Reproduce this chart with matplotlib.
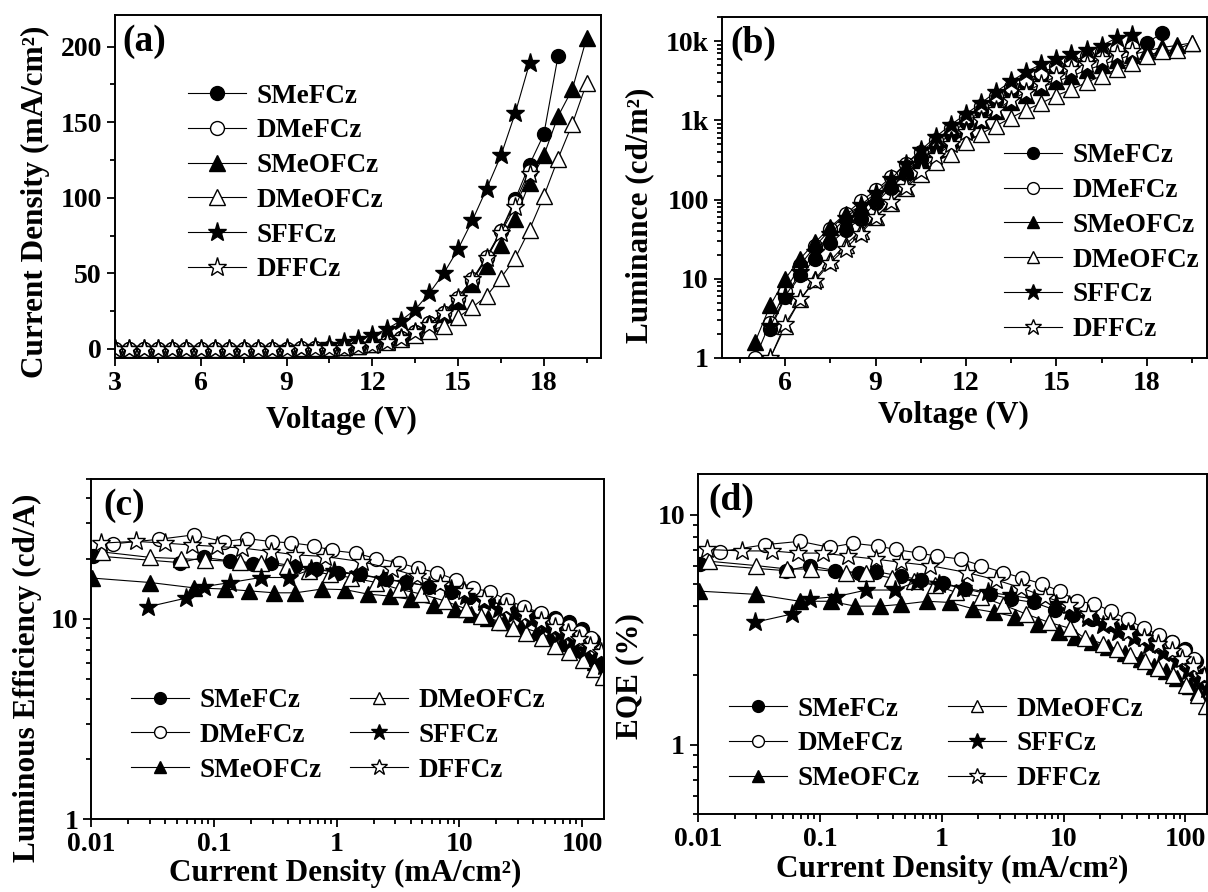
import matplotlib
matplotlib.use('Agg')
import matplotlib.pyplot as plt
from matplotlib.ticker import FixedLocator, FixedFormatter, MultipleLocator, LogLocator, NullFormatter

plt.rcParams['font.family'] = ['Liberation Serif', 'DejaVu Serif']
plt.rcParams['font.weight'] = 'bold'
plt.rcParams['axes.labelweight'] = 'bold'
plt.rcParams['mathtext.default'] = 'regular'

names = ['SMeFCz', 'DMeFCz', 'SMeOFCz', 'DMeOFCz', 'SFFCz', 'DFFCz']

# ---------------- (a) J-V ----------------
V_a = [3.0, 3.5, 4.0, 4.5, 5.0, 5.5, 6.0, 6.5, 7.0, 7.5, 8.0, 8.5, 9.0, 9.5, 10.0, 10.5,
       11.0, 11.5, 12.0, 12.5, 13.0, 13.5, 14.0, 14.5, 15.0, 15.5, 16.0, 16.5, 17.0, 17.5,
       18.0, 18.5, 19.0, 19.5]
J_SMeFCz = [0, 0, 0, 0, 0, 0, 0, 0, 0, 0, 0, 0.1, 0.2, 0.3, 0.4, 0.4,
            0.9, 1.7, 3.0, 4.8, 7.5, 11.5, 17, 24, 33, 45, 60, 78, 99, 122, 142, 194]
J_DMeFCz = [0, 0, 0, 0, 0, 0, 0, 0, 0, 0, 0, 0.1, 0.2, 0.3, 0.4, 0.4,
            0.9, 1.7, 3.0, 4.8, 7.5, 11.5, 17, 24, 34, 46, 61, 78, 97, 118]
J_SMeOFCz = [0, 0, 0, 0, 0, 0, 0, 0, 0, 0, 0, 0.1, 0.2, 0.3, 0.4, 0.5,
             1.1, 2.0, 3.5, 5.5, 8, 12, 17, 23, 32, 43, 55, 69, 86, 110, 128, 154, 172, 206]
J_DMeOFCz = [0, 0, 0, 0, 0, 0, 0, 0, 0, 0, 0, 0.1, 0.2, 0.3, 0.4, 0.5,
             1.0, 1.8, 3.0, 4.5, 6.5, 9, 12, 15, 21, 27.5, 35, 47, 60, 79, 101, 126, 149, 176]
J_SFFCz = [0, 0, 0, 0, 0, 0, 0, 0, 0, 0, 0.1, 0.2, 0.4, 0.8, 1.5, 2.6,
           4.4, 6.6, 9, 13, 18.7, 26, 37, 50, 66, 85, 106, 128, 156, 189]
J_DFFCz = [0, 0, 0, 0, 0, 0, 0, 0, 0, 0, 0, 0.1, 0.2, 0.3, 0.4, 0.4,
           0.8, 1.6, 2.8, 4.5, 7, 11, 16, 24, 34, 46, 60, 77, 94, 116]

# ---------------- (b) L-V ----------------
V_b = [5.0, 5.5, 6.0, 6.5, 7.0, 7.5, 8.0, 8.5, 9.0, 9.5, 10.0, 10.5, 11.0, 11.5, 12.0,
       12.5, 13.0, 13.5, 14.0, 14.5, 15.0, 15.5, 16.0, 16.5, 17.0, 17.5, 18.0, 18.5,
       19.0, 19.5]
L_SMeFCz = [2.3, 5.8, 11, 18, 28, 41, 57, 90, 140, 210, 320, 470, 680, 950, 1300, 1750,
            2300, 2900, 3600, 4300, 5200, 6200, 7000, 7800, 8600, 9500, 12500]          # from 5.5 V
L_DMeFCz = [1.0, 2.8, 7, 15, 26, 42, 65, 95, 130, 190, 280, 400, 560, 800, 1100, 1500,
            2000, 2600, 3200, 4000, 4800, 5600, 6400, 7200, 8000, 8500]                 # from 5.0 V
L_SMeOFCz = [1.6, 4.6, 10, 18, 29, 45, 66, 82, 110, 160, 230, 320, 430, 580, 780, 1000,
             1300, 1700, 2100, 2600, 3100, 3600, 4300, 5000, 5800, 6700, 7500, 8300, 8800, 9500]  # from 5.0 V
L_DMeOFCz = [1.0, 2.5, 5.5, 10, 17, 27, 40, 60, 90, 140, 210, 300, 380, 530, 680, 850,
             1080, 1350, 1650, 2050, 2450, 3000, 3650, 4400, 5300, 6500, 7500, 7800, 9500]  # from 5.5 V
L_SFFCz = [2.5, 6, 12, 22, 37, 58, 85, 120, 180, 280, 420, 620, 880, 1200, 1650, 2300,
           3100, 4100, 5100, 5900, 6800, 7800, 8700, 11000, 12000]                    # from 5.5 V
L_DFFCz = [1.0, 2.7, 5.5, 9.5, 16, 24, 37, 60, 92, 145, 230, 350, 500, 720, 1000, 1350,
           1800, 2300, 2900, 3600, 4400, 5200, 6000, 6800, 7500]                      # from 5.5 V
L_start = [5.5, 5.0, 5.0, 5.5, 5.5, 5.5]

# ---------------- (c),(d) efficiency vs J ----------------
Jc_SMeFCz = [0.0103, 0.053, 0.082, 0.134, 0.208, 0.29, 0.46, 0.68, 1.02, 1.56, 2.5, 3.7, 5.7,
             8.5, 12, 17, 24, 33, 45, 60, 78, 99, 122, 142]
LE_SMeFCz = [20.7, 19.1, 20.3, 19.5, 18.8, 19.1, 18.4, 17.7, 17.0, 16.7, 15.8, 15.3, 14.5,
             13.6, 12.9, 12.3, 11.7, 11.1, 10.6, 10.1, 9.6, 8.9, 7.8, 6.6]
EQE_SMeFCz = [6.1, 5.7, 6.0, 5.7, 5.6, 5.65, 5.4, 5.2, 5.05, 4.75, 4.5, 4.3, 4.15,
              3.85, 3.65, 3.5, 3.35, 3.2, 3.05, 2.95, 2.8, 2.6, 2.3, 2.0]

Jc_DMeFCz = [0.0151, 0.0356, 0.0686, 0.12, 0.186, 0.297, 0.42, 0.65, 0.91, 1.44, 2.1, 3.2,
             4.6, 6.6, 9.3, 13.0, 17.9, 24.6, 33.7, 46, 61, 78, 97, 118]
LE_DMeFCz = [23.7, 25.0, 26.3, 24.3, 25.2, 24.3, 24.0, 23.2, 22.0, 21.3, 20.0, 19.1,
             17.9, 17.0, 15.7, 14.2, 13.7, 12.4, 11.5, 10.7, 9.9, 9.2, 8.6, 8.0]
EQE_DMeFCz = [6.9, 7.4, 7.65, 7.2, 7.5, 7.3, 7.05, 6.8, 6.6, 6.4, 6.0, 5.6,
              5.3, 5.0, 4.65, 4.2, 4.1, 3.8, 3.5, 3.2, 3.0, 2.8, 2.55, 2.35]

Jc_SMeOFCz = [0.0101, 0.03, 0.068, 0.122, 0.194, 0.31, 0.46, 0.76, 1.17, 1.8, 2.7, 4.0,
              6.2, 9.2, 12.5, 17, 23, 32, 43, 55, 69, 86, 110, 128]
LE_SMeOFCz = [16.0, 15.2, 14.3, 14.1, 13.8, 13.5, 13.5, 14.1, 14.0, 13.3, 13.0, 12.5,
              11.8, 11.2, 10.6, 10.1, 9.6, 9.1, 8.6, 8.1, 7.6, 7.1, 6.5, 6.1]
EQE_SMeOFCz = [4.65, 4.5, 4.2, 4.2, 4.0, 4.0, 4.07, 4.2, 4.15, 3.9, 3.76, 3.6,
               3.35, 3.1, 2.95, 2.8, 2.65, 2.5, 2.35, 2.2, 2.1, 1.95, 1.8, 1.7]

Jc_DMeOFCz = [0.0123, 0.03, 0.054, 0.084, 0.162, 0.24, 0.39, 0.59, 0.88, 1.3, 2.1, 3.2,
              4.9, 7.6, 11.4, 15, 21, 27.5, 35, 47, 60, 79, 101, 126, 149]
LE_DMeOFCz = [21.6, 20.3, 20.0, 19.7, 19.3, 19.0, 18.3, 17.4, 16.7, 16.1, 15.2, 14.1,
              13.3, 12.3, 11.2, 10.3, 9.6, 9.0, 8.5, 8.0, 7.3, 6.8, 6.2, 5.6, 5.1]
EQE_DMeOFCz = [6.27, 6.0, 5.8, 5.8, 5.6, 5.55, 5.3, 5.15, 4.93, 4.6, 4.4, 4.05,
               3.7, 3.4, 3.2, 2.9, 2.75, 2.6, 2.45, 2.3, 2.15, 2.0, 1.82, 1.65, 1.48]

Jc_SFFCz = [0.029, 0.059, 0.083, 0.136, 0.24, 0.41, 0.62, 0.95, 1.5, 2.4, 3.7, 5.7, 8.6,
            11.4, 15.8, 21, 28, 38, 50, 66, 85, 106, 128, 150]
LE_SFFCz = [11.5, 12.7, 14.5, 15.2, 16.1, 16.1, 17.7, 17.4, 16.7, 15.8, 15.2, 14.6, 14.1,
            13.0, 12.1, 11.2, 10.6, 9.9, 9.1, 8.4, 7.8, 7.0, 6.4, 5.8]
EQE_SFFCz = [3.4, 3.7, 4.3, 4.4, 4.7, 4.7, 5.1, 5.0, 4.8, 4.6, 4.45, 4.3, 4.1,
             3.8, 3.55, 3.3, 3.1, 2.9, 2.7, 2.5, 2.3, 2.1, 1.9, 1.75]

Jc_DFFCz = [0.0119, 0.023, 0.04, 0.066, 0.106, 0.17, 0.29, 0.46, 0.8, 1.6, 2.8, 4.5, 7,
            11, 16, 24, 34, 46, 60, 77, 94, 116, 143]
LE_DFFCz = [23.9, 24.4, 23.9, 23.4, 23.0, 22.6, 21.7, 20.9, 20.5, 19.3, 17.8, 16.4, 15.0,
            13.8, 12.6, 11.5, 10.6, 9.8, 9.1, 8.5, 7.9, 7.3, 6.8]
EQE_DFFCz = [7.05, 6.95, 6.95, 6.8, 6.8, 6.6, 6.4, 6.2, 6.0, 5.6, 5.2, 4.8, 4.4,
             4.05, 3.7, 3.4, 3.1, 2.9, 2.75, 2.55, 2.35, 2.2, 1.98]

J_list = [J_SMeFCz, J_DMeFCz, J_SMeOFCz, J_DMeOFCz, J_SFFCz, J_DFFCz]
L_list = [L_SMeFCz, L_DMeFCz, L_SMeOFCz, L_DMeOFCz, L_SFFCz, L_DFFCz]
Jc_list = [Jc_SMeFCz, Jc_DMeFCz, Jc_SMeOFCz, Jc_DMeOFCz, Jc_SFFCz, Jc_DFFCz]
LE_list = [LE_SMeFCz, LE_DMeFCz, LE_SMeOFCz, LE_DMeOFCz, LE_SFFCz, LE_DFFCz]
EQE_list = [EQE_SMeFCz, EQE_DMeFCz, EQE_SMeOFCz, EQE_DMeOFCz, EQE_SFFCz, EQE_DFFCz]

markers = ['o', 'o', '^', '^', '*', '*']
faces = ['black', 'white', 'black', 'white', 'black', 'white']
msizes = [10, 10, 11, 11, 14, 14]

TICK_FS = 20
LABEL_FS = 22.5
LEG_FS = 19.5
PANEL_FS = 27
LEG_KW = dict(frameon=False, fontsize=LEG_FS, handlelength=2.15, handletextpad=0.37,
              labelspacing=0.36, borderpad=0, borderaxespad=0, numpoints=1)


def style(i):
    return dict(marker=markers[i], markersize=msizes[i], markerfacecolor=faces[i],
                markeredgecolor='black', markeredgewidth=1.0, color='black',
                linewidth=0.8, label=names[i], clip_on=True)


def base_axes(ax):
    for s in ax.spines.values():
        s.set_linewidth(1.4)
    ax.tick_params(which='both', direction='out', top=False, right=False,
                   labelsize=TICK_FS, width=1.3)
    ax.tick_params(which='major', length=6)
    ax.tick_params(which='minor', length=3.5)


fig = plt.figure(figsize=(12.08, 8.92), dpi=100)
axA = fig.add_axes([0.0952, 0.5987, 0.4023, 0.3845])
axB = fig.add_axes([0.5977, 0.5987, 0.4015, 0.3820])
axC = fig.add_axes([0.0757, 0.0818, 0.4240, 0.3812])
axD = fig.add_axes([0.5780, 0.0874, 0.4210, 0.3812])

# (a)
for i in range(6):
    axA.plot(V_a[:len(J_list[i])], J_list[i], **style(i))
axA.set_xlim(3, 20)
axA.set_ylim(-6, 221)
axA.xaxis.set_major_locator(MultipleLocator(3))
axA.xaxis.set_minor_locator(MultipleLocator(1.5))
axA.yaxis.set_major_locator(MultipleLocator(50))
axA.yaxis.set_minor_locator(MultipleLocator(25))
base_axes(axA)
axA.set_xlabel('Voltage (V)', fontsize=LABEL_FS)
axA.set_ylabel('Current Density (mA/cm²)', fontsize=LABEL_FS)
axA.xaxis.set_label_coords(0.465, -0.14)
axA.yaxis.set_label_coords(-0.134, 0.455)
axA.text(0.015, 0.975, '(a)', transform=axA.transAxes, ha='left', va='top', fontsize=PANEL_FS)
axA.legend(loc='upper left', bbox_to_anchor=(0.15, 0.80), **LEG_KW)

# (b)
for i in range(6):
    k = V_b.index(L_start[i])
    axB.plot(V_b[k:k + len(L_list[i])], L_list[i], **style(i))
axB.set_yscale('log')
axB.set_xlim(3.9, 20)
axB.set_ylim(1, 2e4)
axB.xaxis.set_major_locator(MultipleLocator(3))
axB.xaxis.set_minor_locator(MultipleLocator(1.5))
axB.yaxis.set_major_locator(FixedLocator([1, 10, 100, 1000, 10000]))
axB.yaxis.set_major_formatter(FixedFormatter(['1', '10', '100', '1k', '10k']))
axB.yaxis.set_minor_locator(LogLocator(base=10, subs=range(2, 10)))
axB.yaxis.set_minor_formatter(NullFormatter())
base_axes(axB)
axB.set_xlabel('Voltage (V)', fontsize=LABEL_FS)
axB.set_ylabel('Luminance (cd/m²)', fontsize=LABEL_FS)
axB.xaxis.set_label_coords(0.478, -0.125)
axB.yaxis.set_label_coords(-0.14, 0.42)
axB.text(0.018, 0.975, '(b)', transform=axB.transAxes, ha='left', va='top', fontsize=PANEL_FS)
axB.legend(loc='upper left', bbox_to_anchor=(0.581, 0.63), markerscale=0.85, **LEG_KW)


def log_x(ax):
    ax.set_xscale('log')
    ax.set_xlim(0.01, 150)
    ax.xaxis.set_major_locator(FixedLocator([0.01, 0.1, 1, 10, 100]))
    ax.xaxis.set_major_formatter(FixedFormatter(['0.01', '0.1', '1', '10', '100']))
    ax.xaxis.set_minor_locator(LogLocator(base=10, subs=range(2, 10)))
    ax.xaxis.set_minor_formatter(NullFormatter())


# (c)
for i in range(6):
    axC.plot(Jc_list[i], LE_list[i], **style(i))
log_x(axC)
axC.set_yscale('log')
axC.set_ylim(1, 50)
axC.yaxis.set_major_locator(FixedLocator([1, 10]))
axC.yaxis.set_major_formatter(FixedFormatter(['1', '10']))
axC.yaxis.set_minor_locator(LogLocator(base=10, subs=range(2, 10)))
axC.yaxis.set_minor_formatter(NullFormatter())
base_axes(axC)
axC.tick_params(axis='x', which='major', pad=3)
axC.set_xlabel('Current Density (mA/cm²)', fontsize=LABEL_FS)
axC.set_ylabel('Luminous Efficiency (cd/A)', fontsize=LABEL_FS)
axC.xaxis.set_label_coords(0.495, -0.118)
axC.yaxis.set_label_coords(-0.097, 0.415)
axC.text(0.024, 0.975, '(c)', transform=axC.transAxes, ha='left', va='top', fontsize=PANEL_FS)
axC.legend(loc='upper left', bbox_to_anchor=(0.077, 0.385), ncol=2, columnspacing=1.07,
           markerscale=0.85, **LEG_KW)

# (d)
for i in range(6):
    axD.plot(Jc_list[i], EQE_list[i], **style(i))
log_x(axD)
axD.set_yscale('log')
axD.set_ylim(0.5, 15)
axD.yaxis.set_major_locator(FixedLocator([1, 10]))
axD.yaxis.set_major_formatter(FixedFormatter(['1', '10']))
axD.yaxis.set_minor_locator(LogLocator(base=10, subs=range(2, 10)))
axD.yaxis.set_minor_formatter(NullFormatter())
base_axes(axD)
axD.set_xlabel('Current Density (mA/cm²)', fontsize=LABEL_FS)
axD.set_ylabel('EQE (%)', fontsize=LABEL_FS)
axD.xaxis.set_label_coords(0.5, -0.12)
axD.yaxis.set_label_coords(-0.106, 0.406)
axD.text(0.02, 0.975, '(d)', transform=axD.transAxes, ha='left', va='top', fontsize=PANEL_FS)
axD.legend(loc='upper left', bbox_to_anchor=(0.061, 0.345), ncol=2, columnspacing=1.05,
           markerscale=0.85, **LEG_KW)

fig.savefig('out.png', dpi=100)
